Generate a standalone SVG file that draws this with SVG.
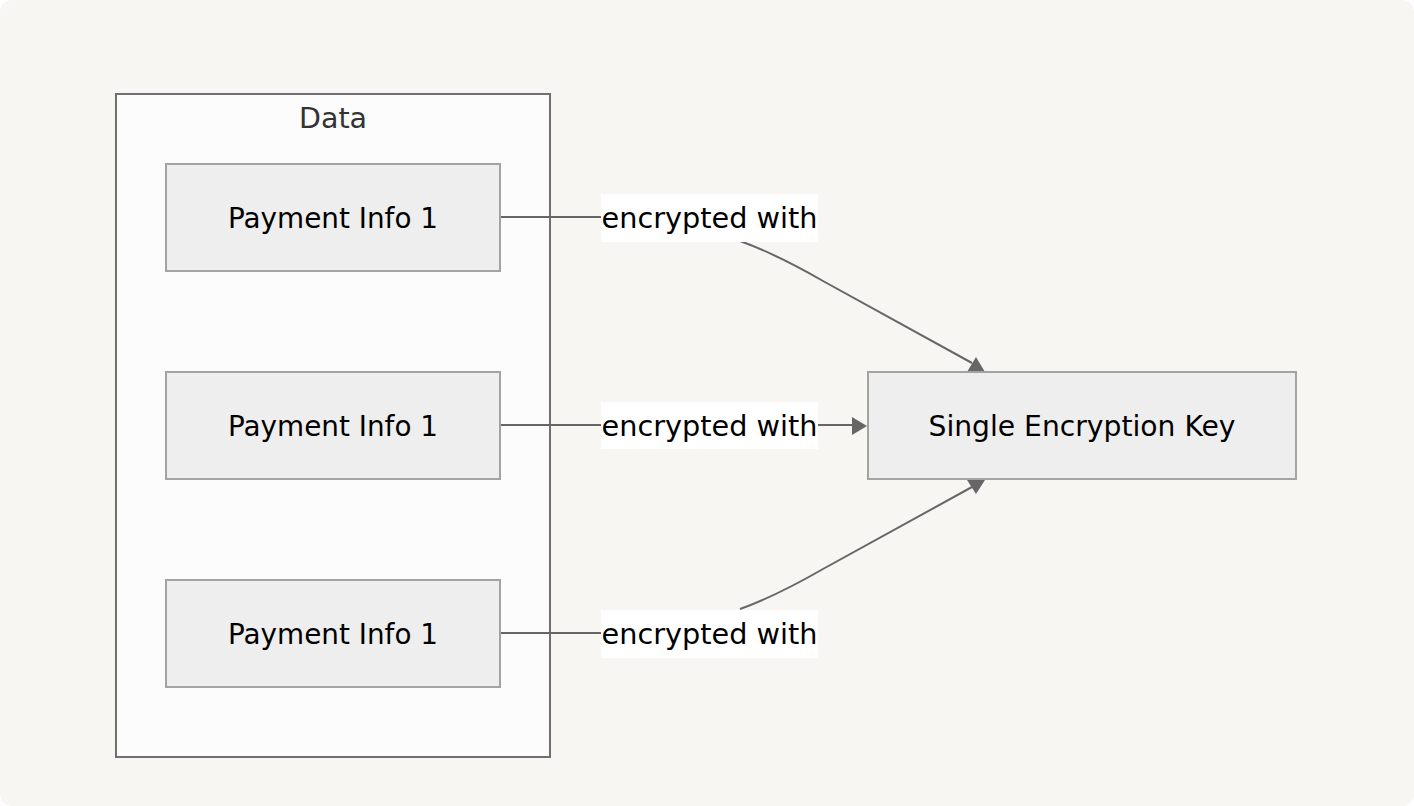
<svg xmlns="http://www.w3.org/2000/svg" width="1414" height="806" viewBox="0 0 1414 806">
<style>
.bg{fill:#f7f6f3}
.cluster{fill:#fcfcfc;stroke:#707070;stroke-width:2}
.node{fill:#eeeeee;stroke:#a3a3a3;stroke-width:2}
.t{font-family:"DejaVu Sans","Liberation Sans",sans-serif;font-size:28.5px;fill:#000;text-anchor:middle}
.ct{font-family:"DejaVu Sans","Liberation Sans",sans-serif;font-size:28.5px;fill:#333;text-anchor:middle}
.edge{fill:none;stroke:#666;stroke-width:2}
.arrow{fill:#666}
.lbg{fill:#ffffff}
</style>
<rect class="bg" x="0" y="0" width="1414" height="806" rx="12" ry="12"/>
<g id="cluster-Data">
<rect class="cluster" x="116" y="94" width="434" height="663"/>
<text class="ct" x="333" y="128">Data</text>
</g>
<g id="edges">
<path class="edge" d="M500,217 L601,217"/>
<path class="edge" d="M740,241 C765,250 790,262 823,281 L972,363"/>
<path class="edge" d="M500,425 L601,425"/>
<path class="edge" d="M818,425 L856,425"/>
<path class="edge" d="M500,633 L601,633"/>
<path class="edge" d="M740,609 C765,600 790,588 823,569 L972,487"/>
<polygon class="arrow" points="976,357 985,372 967,372"/>
<polygon class="arrow" points="852,417 867,426 852,435"/>
<polygon class="arrow" points="967,480 985,480 976,494"/>
<g id="label-1">
<rect class="lbg" x="601" y="194" width="217" height="48"/>
<text class="t" x="709.5" y="228" textLength="216" lengthAdjust="spacingAndGlyphs">encrypted with</text>
</g>
<g id="label-2">
<rect class="lbg" x="601" y="402" width="217" height="47"/>
<text class="t" x="709.5" y="436" textLength="216" lengthAdjust="spacingAndGlyphs">encrypted with</text>
</g>
<g id="label-3">
<rect class="lbg" x="601" y="610" width="217" height="48"/>
<text class="t" x="709.5" y="644" textLength="216" lengthAdjust="spacingAndGlyphs">encrypted with</text>
</g>
</g>
<g id="node-PI1">
<rect class="node" x="166" y="164" width="334" height="107"/>
<text class="t" x="333" y="228" textLength="210" lengthAdjust="spacingAndGlyphs">Payment Info 1</text>
</g>
<g id="node-PI2">
<rect class="node" x="166" y="372" width="334" height="107"/>
<text class="t" x="333" y="436" textLength="210" lengthAdjust="spacingAndGlyphs">Payment Info 1</text>
</g>
<g id="node-PI3">
<rect class="node" x="166" y="580" width="334" height="107"/>
<text class="t" x="333" y="644" textLength="210" lengthAdjust="spacingAndGlyphs">Payment Info 1</text>
</g>
<g id="node-Key">
<rect class="node" x="868" y="372" width="428" height="107"/>
<text class="t" x="1082" y="436" textLength="307" lengthAdjust="spacingAndGlyphs">Single Encryption Key</text>
</g>
</svg>
